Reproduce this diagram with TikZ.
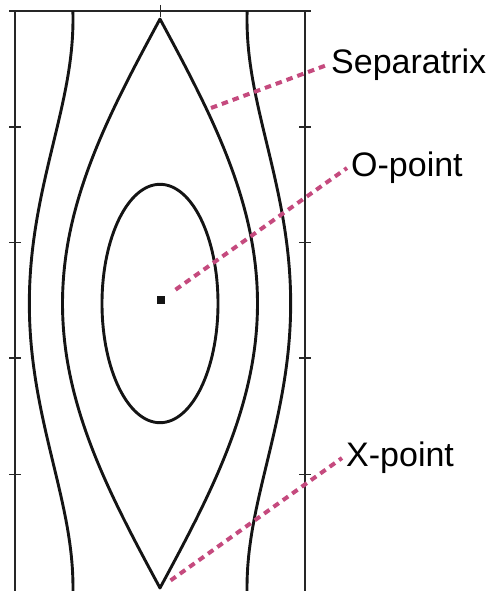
\documentclass[tikz,border=0pt]{standalone}
\usepackage{fontspec}
\setmainfont{Liberation Sans}
\definecolor{labelpink}{RGB}{197,74,126}
\tikzset{
  frame/.style={line width=1.2pt, black!85},
  orbit/.style={line width=2.9pt, black!92, line join=round},
  marker/.style={draw=labelpink, line width=4pt, dash pattern=on 6.5pt off 5pt},
  tag/.style={anchor=west, inner sep=4pt, font=\fontsize{34}{40}\selectfont},
  opdot/.style={fill=black!92, inner sep=0pt, minimum size=7.5pt}
}
\begin{document}
\begin{tikzpicture}[x=1pt,y=-1pt]
 \useasboundingbox (0,0) rectangle (492,591);
 % box with ticks
 \draw[frame] (9,11) -- (311,11);
 \draw[frame] (15,11) -- (15,591);
 \draw[frame] (305,11) -- (305,591);
 \draw[frame] (160.5,5) -- (160.5,17);
 \foreach \y in {127,242.5,358,474.5} {
  \draw[frame] (9,\y) -- (21,\y);
  \draw[frame] (299,\y) -- (311,\y);
 }
 % passing orbits
 \draw[orbit] plot[domain=11:591, samples=100, variable=\t]
  ({160-10*sqrt(75.69+95.06*pow(sin((\t-19)/569*180),2))}, \t);
 \draw[orbit] plot[domain=11:591, samples=100, variable=\t]
  ({160+10*sqrt(75.69+95.06*pow(sin((\t-19)/569*180),2))}, \t);
 % separatrix
 \draw[orbit] plot[domain=19:588, samples=120, variable=\t]
  ({160-97.5*sin((\t-19)/569*180)}, \t)
  -- plot[domain=588:19, samples=120, variable=\t]
  ({160+97.5*sin((\t-19)/569*180)}, \t) -- cycle;
 % trapped orbit
 \draw[orbit] (160,303.5) ellipse [x radius=58, y radius=119.2];
 \node[opdot] (opt) at (161,300) {};
 \coordinate (seppt) at (211,108);
 \coordinate (xpt) at (160,588);
 % labels
 \node[tag] (seplabel) at (327,65) {Separatrix};
 \node[tag] (olabel) at (347,168) {O-point};
 \node[tag] (xlabel) at (342,458) {X-point};
 \draw[marker] (seppt) -- (seplabel.west);
 \draw[marker, shorten <=13pt] (opt) -- (olabel.west);
 \draw[marker, shorten <=13pt] (xpt) -- (xlabel.west);
\end{tikzpicture}
\end{document}
